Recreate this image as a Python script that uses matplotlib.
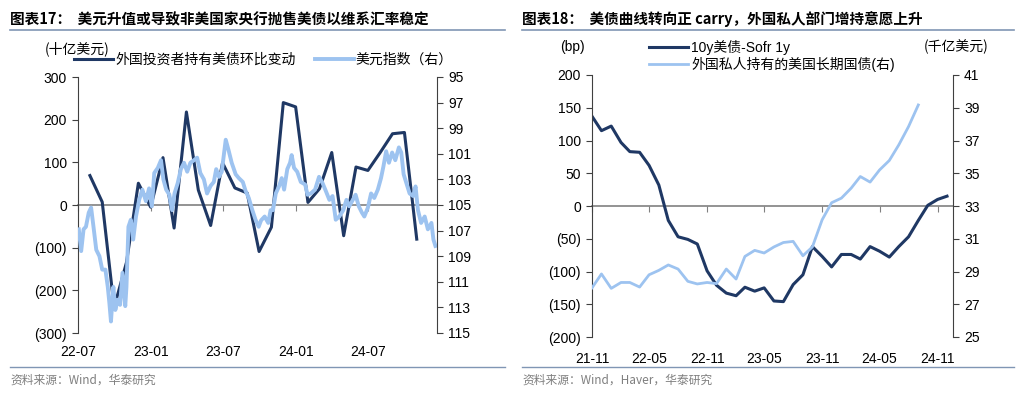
import numpy as np
import pandas as pd
import matplotlib
matplotlib.use("Agg")
import matplotlib.pyplot as plt
import matplotlib.dates as mdates
from matplotlib.ticker import FuncFormatter, MultipleLocator

# === Data ===
# left chart: foreign holdings of UST, monthly change (bn USD), month-end
flow_months = pd.date_range("2022-07-31", "2024-10-31", freq="ME")
flow_values = [69, 7, -240, -135, 51, -5, 111, -54, 218, 35, -48, 99, 40, 28,
               -109, -52, 240, 230, 6, 38, 123, -72, 89, 81, 123, 167, 170, -80]

# left chart: dollar index (right axis, inverted)
dxy_dates = [
    "2022-07-03", "2022-07-09", "2022-07-15", "2022-07-21", "2022-07-28", "2022-08-03",
    "2022-08-09", "2022-08-16", "2022-08-24", "2022-08-31", "2022-09-08", "2022-09-14",
    "2022-09-18", "2022-09-22", "2022-09-28", "2022-10-03", "2022-10-09", "2022-10-15",
    "2022-10-21", "2022-10-28", "2022-10-31", "2022-11-05", "2022-11-11", "2022-11-17",
    "2022-11-24", "2022-12-02", "2022-12-10", "2022-12-19", "2022-12-27", "2023-01-03",
    "2023-01-09", "2023-01-18", "2023-01-26", "2023-02-01", "2023-02-08", "2023-02-16",
    "2023-02-23", "2023-03-01", "2023-03-09", "2023-03-17", "2023-03-25", "2023-04-02",
    "2023-04-10", "2023-04-19", "2023-04-27", "2023-05-05", "2023-05-14", "2023-05-22",
    "2023-05-31", "2023-06-08", "2023-06-14", "2023-06-21", "2023-06-28", "2023-07-04",
    "2023-07-08", "2023-07-15", "2023-07-23", "2023-08-02", "2023-08-10", "2023-08-20",
    "2023-08-27", "2023-09-04", "2023-09-13", "2023-09-21", "2023-09-29", "2023-10-05",
    "2023-10-14", "2023-10-23", "2023-10-29", "2023-11-04", "2023-11-11", "2023-11-19",
    "2023-11-26", "2023-12-02", "2023-12-10", "2023-12-17", "2023-12-21", "2023-12-27",
    "2024-01-04", "2024-01-13", "2024-01-24", "2024-01-30", "2024-02-07", "2024-02-18",
    "2024-02-28", "2024-03-08", "2024-03-16", "2024-03-25", "2024-04-02", "2024-04-10",
    "2024-04-19", "2024-04-29", "2024-05-07", "2024-05-14", "2024-05-23", "2024-05-30",
    "2024-06-07", "2024-06-15", "2024-06-21", "2024-06-30", "2024-07-08", "2024-07-16",
    "2024-07-25", "2024-08-02", "2024-08-08", "2024-08-15", "2024-08-22", "2024-08-30",
    "2024-09-07", "2024-09-16", "2024-09-22", "2024-09-28", "2024-10-05", "2024-10-13",
    "2024-10-22", "2024-10-28", "2024-11-03", "2024-11-11", "2024-11-20", "2024-11-28",
    "2024-12-07", "2024-12-12", "2024-12-17",
]
dxy_values = [
    106.9, 108.6, 106.9, 106.7, 105.6, 105.2,
    106.7, 108.5, 109.0, 110.05, 110.05, 111.4,
    112.65, 114.1, 111.4, 113.2, 112.4, 112.8,
    110.3, 112.9, 111.4, 106.7, 106.15, 107.7,
    105.9, 104.6, 103.8, 104.7, 103.7, 105.1,
    102.5, 102.1, 101.5, 103.0, 103.8, 104.2,
    105.4, 104.1, 103.3, 102.2, 101.7, 102.4,
    101.7, 101.5, 101.3, 102.5, 103.0, 104.1,
    103.5, 103.2, 102.2, 102.8, 102.4, 100.9,
    99.9, 100.7, 101.7, 102.6, 102.9, 103.2,
    103.9, 104.45, 105.4, 106.15, 106.7, 106.2,
    105.9, 106.4, 105.4, 105.4, 104.1, 103.55,
    102.9, 103.8, 102.2, 101.7, 101.1, 102.1,
    102.4, 103.2, 103.4, 104.2, 104.1, 103.8,
    102.8, 103.3, 103.9, 104.6, 104.3, 106.15,
    105.9, 105.4, 104.6, 105.1, 104.6, 104.2,
    105.1, 105.6, 105.9, 105.2, 104.1, 104.45,
    103.8, 102.9, 102.0, 100.8, 101.7, 100.9,
    101.5, 100.5, 100.9, 102.6, 103.3, 104.1,
    104.3, 103.55, 105.4, 106.4, 105.9, 106.9,
    106.4, 107.7, 108.2,
]

# right chart: 10y UST - SOFR 1y (bp), and foreign private holdings of long-term UST (100bn USD)
carry_months = pd.date_range("2021-11-01", "2024-12-01", freq="MS")
carry_values = [137, 115, 122, 97, 83, 82, 62, 32, -22, -47, -51, -58, -99, -121,
                -133, -137, -124, -130, -125, -145, -146, -120, -105, -62, -77, -93,
                -74, -74, -81, -62, -69, -78, -62, -47, -22, 1, 10, 15]
hold_months = pd.date_range("2021-11-01", "2024-09-01", freq="MS")
hold_values = [28.0, 28.85, 27.97, 28.33, 28.33, 28.05, 28.8, 29.07, 29.4, 29.15,
               28.4, 28.24, 28.33, 28.26, 29.15, 28.54, 29.92, 30.29, 30.13, 30.5,
               30.77, 30.84, 29.96, 30.5, 32.16, 33.2, 33.48, 34.09, 34.8, 34.46,
               35.2, 35.78, 36.73, 37.85, 39.17]

# axis ticks
dxy_ticks = np.arange(95, 116, 2)
hold_ticks = np.arange(25, 42, 2)

# === Style ===
DARK = "#1F3864"
LIGHT = "#9DC3F0"
RULE = "#8096B4"
GREY = "#808080"
NUM = ["Liberation Sans", "Noto Sans CJK SC"]
CJK = ["Noto Sans CJK SC", "Liberation Sans"]

W, H = 1024, 394


def fx(x):
    return x / W


def fy(y):
    return 1 - y / H


def paren(v, pos):
    return f"({abs(v):.0f})" if v < 0 else f"{v:.0f}"


def style_axes(ax, ax2, xpad):
    for a in (ax, ax2):
        a.spines["top"].set_visible(False)
        a.spines["bottom"].set_visible(False)
        a.spines["left"].set_color("#404040")
        a.spines["right"].set_color("#404040")
        a.spines["left"].set_linewidth(0.8)
        a.spines["right"].set_linewidth(0.8)
        a.tick_params(axis="y", direction="out", length=4, width=0.8, color="#404040",
                      labelsize=10, pad=4)
        for lab in a.get_yticklabels():
            lab.set_family(NUM)
    ax2.spines["left"].set_visible(False)
    ax.spines["right"].set_visible(False)
    ax.tick_params(axis="x", length=0, labelsize=10, pad=xpad)
    for lab in ax.get_xticklabels():
        lab.set_family(NUM)
    # zero line with its own small ticks, drawn beneath the series
    z = ax.twiny()
    z.set_xlim(ax.get_xlim())
    z.set_xticks(ax.get_xticks())
    z.xaxis.set_ticks_position("bottom")
    z.spines["bottom"].set_position(("data", 0))
    for side in ("top", "left", "right"):
        z.spines[side].set_visible(False)
    z.spines["bottom"].set_color(GREY)
    z.spines["bottom"].set_linewidth(1.2)
    z.tick_params(axis="x", direction="out", length=4, width=0.8, color=GREY,
                  labelbottom=False, labeltop=False)
    z.set_zorder(-1)
    ax.patch.set_visible(False)


fig = plt.figure(figsize=(W / 100, H / 100), dpi=100)

# ---------- left chart ----------
axL = fig.add_axes([fx(78), fy(333), fx(437 - 78), (333 - 77) / H])
axL.plot(flow_months, flow_values, color=DARK, lw=2.2, label="外国投资者持有美债环比变动")
axL.set_ylim(-300, 300)
axL.yaxis.set_major_locator(MultipleLocator(100))
axL.yaxis.set_major_formatter(FuncFormatter(paren))
axL.set_xlim(pd.Timestamp("2022-07-01"), pd.Timestamp("2024-12-21"))
axL.xaxis.set_major_locator(mdates.MonthLocator(bymonth=[1, 7]))
axL.xaxis.set_major_formatter(mdates.DateFormatter("%y-%m"))

axL2 = axL.twinx()
axL2.plot(pd.to_datetime(dxy_dates), dxy_values, color=LIGHT, lw=2.8, label="美元指数（右）")
axL2.set_ylim(115, 95)
axL2.set_yticks(dxy_ticks)
style_axes(axL, axL2, 9)

hL = axL.get_lines() + axL2.get_lines()
fig.legend(hL, [h.get_label() for h in hL], loc="upper left",
           bbox_to_anchor=(fx(74), fy(53)), ncol=2, frameon=False,
           prop={"family": CJK, "size": 10}, handlelength=2.8, handletextpad=0.15,
           columnspacing=1.4, borderpad=0, borderaxespad=0)
fig.text(fx(45), fy(49), "(十亿美元)", family=CJK, fontsize=10, va="center")

# ---------- right chart ----------
axR = fig.add_axes([fx(592), fy(337), fx(953 - 592), (337 - 75) / H])
axR.plot(carry_months, carry_values, color=DARK, lw=2.2, label="10y美债-Sofr 1y")
axR.set_ylim(-200, 200)
axR.yaxis.set_major_locator(MultipleLocator(50))
axR.yaxis.set_major_formatter(FuncFormatter(paren))
axR.set_xlim(pd.Timestamp("2021-11-01"), pd.Timestamp("2024-12-20"))
axR.xaxis.set_major_locator(mdates.MonthLocator(bymonth=[5, 11]))
axR.xaxis.set_major_formatter(mdates.DateFormatter("%y-%m"))

axR2 = axR.twinx()
axR2.plot(hold_months, hold_values, color=LIGHT, lw=2.0, label="外国私人持有的美国长期国债(右)")
axR2.set_ylim(25, 41)
axR2.set_yticks(hold_ticks)
style_axes(axR, axR2, 11)

hR = axR.get_lines() + axR2.get_lines()
fig.legend(hR, [h.get_label() for h in hR], loc="upper left",
           bbox_to_anchor=(fx(649), fy(40)), ncol=1, frameon=False,
           prop={"family": NUM, "size": 10}, handlelength=2.8, handletextpad=0.25,
           labelspacing=0.15, borderpad=0, borderaxespad=0)
fig.text(fx(560), fy(47), "(bp)", family=NUM, fontsize=10, va="center")
fig.text(fx(924), fy(47), "(千亿美元)", family=CJK, fontsize=10, va="center")

# ---------- titles, rules, sources ----------
fig.text(fx(10), fy(19), "图表17：  美元升值或导致非美国家央行抛售美债以维系汇率稳定",
         family=CJK, fontsize=10.5, weight="bold", va="center")
fig.text(fx(522), fy(19), "图表18：  美债曲线转向正 carry，外国私人部门增持意愿上升",
         family=CJK, fontsize=10.5, weight="bold", va="center")
for x0, x1 in [(10, 505), (522, 1014)]:
    fig.add_artist(plt.Line2D([fx(x0), fx(x1)], [fy(30), fy(30)], color=RULE, lw=1.2))
    fig.add_artist(plt.Line2D([fx(x0), fx(x1)], [fy(367), fy(367)], color=RULE, lw=1.0))
fig.text(fx(10), fy(380), "资料来源：Wind，华泰研究", family=CJK, fontsize=8.5,
         color="#7F7F7F", va="center")
fig.text(fx(522), fy(380), "资料来源：Wind，Haver，华泰研究", family=CJK, fontsize=8.5,
         color="#7F7F7F", va="center")

fig.savefig("out.png", dpi=100)
